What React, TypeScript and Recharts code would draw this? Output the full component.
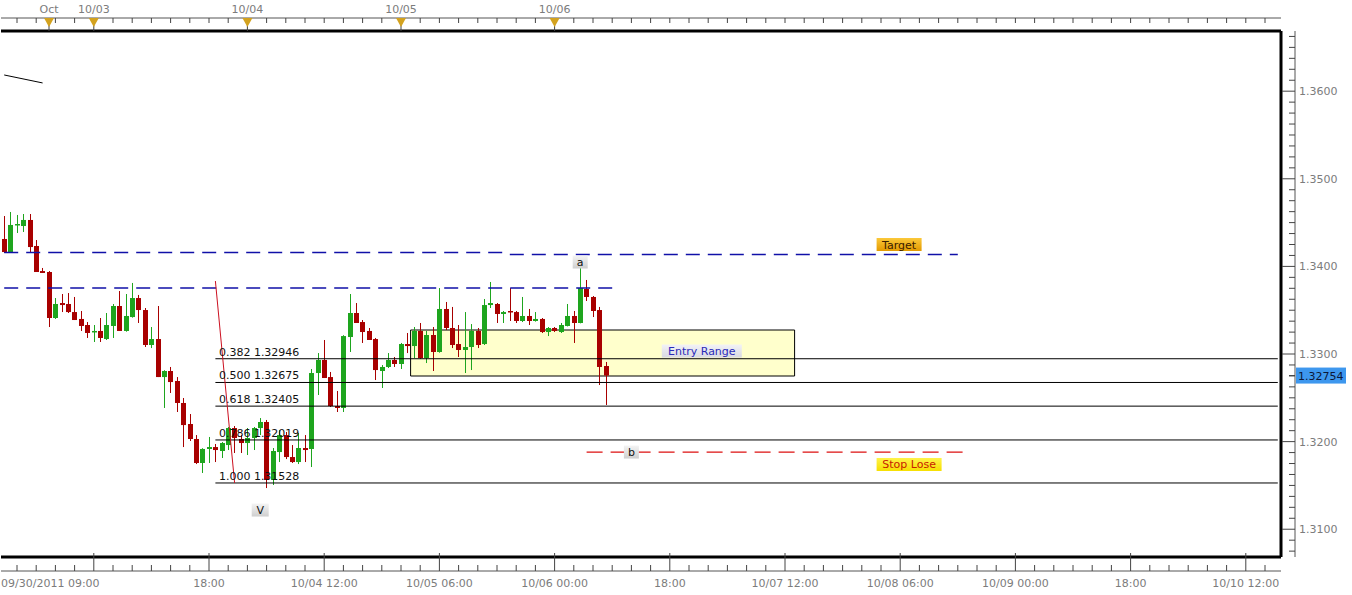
import React from "react";
import {
  Bar,
  ComposedChart,
  ReferenceArea,
  ReferenceDot,
  ReferenceLine,
  XAxis,
  YAxis,
} from "recharts";

const FONT = "'DejaVu Sans', Tahoma, sans-serif";
const GREEN = "#1ea51e";
const RED = "#a80000";
const AXIS_TEXT = "#7c7c7c";

// hourly EUR/USD candles, 09/30 -> 10/06
const opens = [
  1.34313, 1.34164, 1.34473, 1.34461, 1.3453, 1.34233, 1.33947, 1.33936, 1.33411, 1.33582,
  1.33571, 1.33479, 1.334, 1.33331, 1.33251, 1.33263, 1.33171, 1.3332, 1.33548, 1.33263,
  1.33422, 1.33639, 1.33502, 1.33103, 1.33171, 1.32737, 1.32806, 1.32692, 1.32441, 1.32201,
  1.3203, 1.31756, 1.31916, 1.31938, 1.31893, 1.31961, 1.32155, 1.3203, 1.31984, 1.32041,
  1.32155, 1.32224, 1.31562, 1.31881, 1.32075, 1.31824, 1.31767, 1.31927, 1.31916, 1.32783,
  1.32932, 1.32737, 1.32406, 1.32384, 1.33194, 1.33468, 1.33365, 1.33263, 1.33171, 1.32806,
  1.32852, 1.32932, 1.32886, 1.33114, 1.33091, 1.33263, 1.32954, 1.33217, 1.33023, 1.33514,
  1.33297, 1.33114, 1.33046, 1.3308, 1.33263, 1.33114, 1.33559, 1.33571, 1.33457, 1.33491,
  1.33479, 1.33377, 1.33434, 1.33377, 1.334, 1.33251, 1.33297, 1.33251, 1.3332, 1.33434,
  1.33354, 1.33742, 1.33651, 1.33502, 1.32863,
];
const highs = [
  1.34575, 1.34621, 1.34587, 1.34598, 1.34598, 1.34301, 1.33982, 1.33947, 1.33639, 1.33685,
  1.33696, 1.33651, 1.33491, 1.33365, 1.33331, 1.33411, 1.33468, 1.33571, 1.33719, 1.33685,
  1.33811, 1.33674, 1.33525, 1.33308, 1.33548, 1.32815, 1.32852, 1.32737, 1.32498, 1.32315,
  1.32075, 1.31925, 1.32053, 1.31973, 1.31995, 1.32167, 1.32178, 1.32075, 1.32155, 1.32167,
  1.32269, 1.32247, 1.31927, 1.32132, 1.3211, 1.31961, 1.32098, 1.32075, 1.32829, 1.33011,
  1.3316, 1.32795, 1.32578, 1.33215, 1.33685, 1.33582, 1.33388, 1.33297, 1.33183, 1.32874,
  1.33011, 1.32966, 1.33126, 1.3324, 1.33308, 1.33354, 1.33263, 1.33308, 1.33753, 1.33594,
  1.33537, 1.33331, 1.33479, 1.33342, 1.33297, 1.33628, 1.33822, 1.33582, 1.33491, 1.33753,
  1.33491, 1.33651, 1.33514, 1.33479, 1.33411, 1.33308, 1.33308, 1.33354, 1.33571, 1.33491,
  1.33993, 1.33845, 1.33662, 1.33537, 1.32909,
];
const lows = [
  1.34153, 1.34153, 1.34381, 1.34393, 1.34164, 1.33936, 1.33925, 1.33308, 1.334, 1.33479,
  1.33468, 1.33388, 1.33263, 1.33183, 1.33137, 1.33137, 1.3316, 1.33183, 1.33263, 1.33255,
  1.33415, 1.33354, 1.3308, 1.33068, 1.32737, 1.32384, 1.32555, 1.32338, 1.31938, 1.32007,
  1.31744, 1.31642, 1.31756, 1.31767, 1.31813, 1.31904, 1.3187, 1.3187, 1.31847, 1.31904,
  1.32075, 1.3147, 1.31505, 1.31767, 1.31801, 1.31756, 1.31744, 1.31767, 1.3171, 1.32532,
  1.32726, 1.32395, 1.32338, 1.32338, 1.33023, 1.33354, 1.33126, 1.3316, 1.32703, 1.32612,
  1.3284, 1.32852, 1.32829, 1.33011, 1.32954, 1.32945, 1.32897, 1.32806, 1.33015, 1.33274,
  1.33068, 1.32966, 1.32783, 1.32817, 1.33068, 1.33103, 1.33525, 1.33354, 1.33354, 1.33377,
  1.33354, 1.33365, 1.33331, 1.3337, 1.3324, 1.33205, 1.33251, 1.3324, 1.33315, 1.33126,
  1.3335, 1.33605, 1.33422, 1.32646, 1.32418,
];
const closes = [
  1.34164, 1.34473, 1.34484, 1.3453, 1.34221, 1.33936, 1.33925, 1.33411, 1.33571, 1.33559,
  1.33479, 1.33388, 1.3332, 1.3324, 1.33263, 1.33183, 1.33331, 1.33548, 1.33263, 1.33434,
  1.33639, 1.33502, 1.33103, 1.33171, 1.32737, 1.32806, 1.3268, 1.32441, 1.32189, 1.3203,
  1.31756, 1.31916, 1.31938, 1.31904, 1.31984, 1.32155, 1.32041, 1.31984, 1.32041, 1.32155,
  1.32224, 1.31562, 1.31893, 1.32075, 1.31824, 1.31767, 1.31927, 1.31904, 1.32783, 1.32932,
  1.32726, 1.32406, 1.32384, 1.33205, 1.33468, 1.33354, 1.33251, 1.3316, 1.32817, 1.32852,
  1.32932, 1.32886, 1.33114, 1.33091, 1.33263, 1.32954, 1.33217, 1.33023, 1.33514, 1.33297,
  1.33103, 1.33046, 1.3308, 1.33263, 1.33103, 1.33559, 1.33582, 1.33457, 1.33479, 1.33479,
  1.33377, 1.33434, 1.33377, 1.334, 1.33251, 1.33297, 1.33263, 1.33331, 1.33434, 1.33354,
  1.33753, 1.33651, 1.33491, 1.32852, 1.32754,
];

const SLOTS = 200; // hourly slots shown, future ones empty
const lastPrice = 1.32754;

const topMarks = [7, 14, 38, 62, 86];
const topLabels = ["Oct", "10/03", "10/04", "10/05", "10/06"];
const bottomMarks = [14, 32, 50, 68, 86, 104, 122, 140, 158, 176, 194];
const bottomLabels = [
  "09/30/2011 09:00", "18:00", "10/04 12:00", "10/05 06:00", "10/06 00:00", "18:00",
  "10/07 12:00", "10/08 06:00", "10/09 00:00", "18:00", "10/10 12:00",
];
const priceMajors = [1.31, 1.32, 1.33, 1.34, 1.35, 1.36];

const fibRatios = ["0.382", "0.500", "0.618", "0.786", "1.000"];
const fibLevels = [1.32946, 1.32675, 1.32405, 1.32019, 1.31528];

const targetLevels = [1.34159, 1.34136];
const resistLevel = 1.33753;
const stopLevel = 1.31881;
const entryRange = [1.32749, 1.33274];

const data = Array.from({ length: SLOTS }, (_, i) =>
  i < opens.length
    ? { i, range: [lows[i], highs[i]], o: opens[i], h: highs[i], l: lows[i], c: closes[i] }
    : { i }
);

const minorX = Array.from({ length: 66 }, (_, k) => 2 + k * 3);
const topTicks = [...new Set([...minorX, ...topMarks])].sort((a, b) => a - b);
const bottomTicks = minorX;
const priceTicks = [
  ...Array.from({ length: 48 }, (_, k) => Math.round((1.3075 + k * 0.00125) * 1e5) / 1e5),
  lastPrice,
];

function Candle(props: any) {
  const { x, y, width, height, payload } = props;
  if (payload == null || payload.o == null) return null;
  const { o, h, l, c } = payload;
  const top = Math.min(y, y + height);
  const span = Math.abs(height);
  const k = span / (h - l);
  const py = (p: number) => top + (h - p) * k;
  const cx = Math.round(x + width / 2) + 0.5;
  const color = c >= o ? GREEN : RED;
  const bodyTop = py(Math.max(o, c));
  const bodyH = Math.max(1.5, py(Math.min(o, c)) - bodyTop);
  return (
    <g>
      <line x1={cx} x2={cx} y1={top} y2={top + span} stroke={color} strokeWidth={1} />
      <rect x={cx - 2.5} y={bodyTop} width={5} height={bodyH} fill={color} />
    </g>
  );
}

function TopTick(props: any) {
  const { x, y, payload } = props;
  const m = topMarks.indexOf(payload.value);
  if (m >= 0) {
    return (
      <g>
        <line x1={x} x2={x} y1={y} y2={y + 13} stroke="#444" />
        <path d={`M${x - 5},${y} L${x + 5},${y} L${x},${y + 9} Z`} fill="#d3a21f" />
        <text x={x} y={y - 5} textAnchor="middle" fill={AXIS_TEXT} fontSize={11} fontFamily={FONT}>
          {topLabels[m]}
        </text>
      </g>
    );
  }
  return <line x1={x} x2={x} y1={y} y2={y + 5} stroke="#444" />;
}

function BottomTick(props: any) {
  const { x, y, payload } = props;
  const m = bottomMarks.indexOf(payload.value);
  if (m >= 0) {
    return (
      <g>
        <line x1={x} x2={x} y1={y - 18} y2={y} stroke="#444" />
        <text
          x={m === 0 ? 1 : x}
          y={y + 16}
          textAnchor={m === 0 ? "start" : "middle"}
          fill={AXIS_TEXT}
          fontSize={11}
          fontFamily={FONT}
        >
          {bottomLabels[m]}
        </text>
      </g>
    );
  }
  return <line x1={x} x2={x} y1={y - 6} y2={y} stroke="#444" />;
}

function PriceTick(props: any) {
  const { x, y, payload } = props;
  const v = payload.value;
  if (v === lastPrice) {
    return (
      <g>
        <line x1={x - 6} x2={x} y1={y} y2={y} stroke="#444" />
        <rect x={x + 1} y={y - 8} width={50} height={16} fill="#3d97ee" />
        <text x={x + 3} y={y + 4} fill="#0c1838" fontSize={11} fontFamily={FONT}>
          {v.toFixed(5)}
        </text>
      </g>
    );
  }
  const major = priceMajors.some((p) => Math.abs(p - v) < 1e-7);
  if (major) {
    return (
      <g>
        <line x1={x - 13} x2={x} y1={y} y2={y} stroke="#444" />
        <text x={x + 4} y={y + 4} fill={AXIS_TEXT} fontSize={11} fontFamily={FONT}>
          {v.toFixed(4)}
        </text>
      </g>
    );
  }
  return <line x1={x - 6} x2={x} y1={y} y2={y} stroke="#444" />;
}

const fibLabel = (text: string) => (p: any) => (
  <text x={p.cx + 3.5} y={p.cy - 3} fill="#111" fontSize={11} fontFamily={FONT}>
    {text}
  </text>
);

const boxLabel =
  (text: string, w: number, fill: string, color: string, anchor: "left" | "center") =>
  (p: any) => {
    const left = anchor === "left" ? p.cx + 2 : p.cx - w / 2;
    return (
      <g>
        <rect x={left} y={p.cy - 6.5} width={w} height={13} fill={fill} />
        <text
          x={left + w / 2}
          y={p.cy + 4}
          textAnchor="middle"
          fill={color}
          fontSize={11}
          fontFamily={FONT}
        >
          {text}
        </text>
      </g>
    );
  };

export default function App() {
  return (
    <div style={{ position: "absolute", left: 0, top: 0, background: "#fff" }}>
      <ComposedChart
        width={1352}
        height={595}
        data={data}
        margin={{ top: 0, right: 0, bottom: 0, left: 1 }}
        barCategoryGap={0}
      >
        <defs>
          <linearGradient id="gTarget" x1="0" y1="0" x2="0" y2="1">
            <stop offset="0%" stopColor="#fbc83a" />
            <stop offset="100%" stopColor="#e39a00" />
          </linearGradient>
          <linearGradient id="gStop" x1="0" y1="0" x2="0" y2="1">
            <stop offset="0%" stopColor="#fff34a" />
            <stop offset="100%" stopColor="#f6df00" />
          </linearGradient>
          <linearGradient id="gTag" x1="0" y1="0" x2="0" y2="1">
            <stop offset="0%" stopColor="#f4f4f4" />
            <stop offset="100%" stopColor="#cfcfcf" />
          </linearGradient>
          <linearGradient id="gEntry" x1="0" y1="0" x2="0" y2="1">
            <stop offset="0%" stopColor="#f2f2f6" />
            <stop offset="100%" stopColor="#d9d9e2" />
          </linearGradient>
        </defs>

        <XAxis
          xAxisId="t0"
          dataKey="i"
          orientation="top"
          height={13}
          tick={false}
          tickLine={false}
          axisLine={{ stroke: "#000", strokeWidth: 3 }}
        />
        <XAxis
          xAxisId="t1"
          dataKey="i"
          orientation="top"
          height={18}
          ticks={topTicks}
          interval={0}
          tickSize={0}
          tickMargin={0}
          tickLine={false}
          tick={<TopTick />}
          axisLine={{ stroke: "#555", strokeWidth: 1 }}
        />
        <XAxis
          xAxisId="b0"
          dataKey="i"
          orientation="bottom"
          height={14}
          tick={false}
          tickLine={false}
          axisLine={{ stroke: "#000", strokeWidth: 3 }}
        />
        <XAxis
          xAxisId="b1"
          dataKey="i"
          orientation="bottom"
          height={24}
          ticks={bottomTicks}
          interval={0}
          tickSize={0}
          tickMargin={0}
          tickLine={false}
          tick={<BottomTick />}
          axisLine={{ stroke: "#555", strokeWidth: 1 }}
        />
        <YAxis
          yAxisId="p"
          orientation="right"
          type="number"
          width={14}
          domain={[1.30683, 1.36687]}
          allowDataOverflow
          tick={false}
          tickLine={false}
          axisLine={{ stroke: "#000", strokeWidth: 3 }}
        />
        <YAxis
          yAxisId="r"
          orientation="right"
          type="number"
          width={57}
          domain={[1.30683, 1.36687]}
          allowDataOverflow
          ticks={priceTicks}
          interval={0}
          tickSize={0}
          tickMargin={0}
          tickLine={false}
          tick={<PriceTick />}
          axisLine={{ stroke: "#555", strokeWidth: 1 }}
        />

        <ReferenceArea
          xAxisId="b0"
          yAxisId="p"
          x1={64}
          x2={123}
          y1={entryRange[0]}
          y2={entryRange[1]}
          fill="#ffffcc"
          fillOpacity={1}
          stroke="#000"
          strokeWidth={1}
        />

        {fibLevels.map((lv, k) => (
          <ReferenceLine
            key={"fib" + k}
            xAxisId="b0"
            yAxisId="p"
            segment={[
              { x: 33, y: lv },
              { x: SLOTS - 1, y: lv },
            ]}
            stroke="#000"
            strokeWidth={1}
          />
        ))}

        <ReferenceLine
          xAxisId="b0"
          yAxisId="p"
          segment={[
            { x: 0, y: targetLevels[0] },
            { x: 79, y: targetLevels[0] },
          ]}
          stroke="#1010a8"
          strokeWidth={1.5}
          strokeDasharray="14 8"
        />
        <ReferenceLine
          xAxisId="b0"
          yAxisId="p"
          segment={[
            { x: 79, y: targetLevels[1] },
            { x: 149, y: targetLevels[1] },
          ]}
          stroke="#1010a8"
          strokeWidth={1.5}
          strokeDasharray="14 8"
        />
        <ReferenceLine
          xAxisId="b0"
          yAxisId="p"
          segment={[
            { x: 0, y: resistLevel },
            { x: 95, y: resistLevel },
          ]}
          stroke="#1010a8"
          strokeWidth={1.5}
          strokeDasharray="14 8"
        />
        <ReferenceLine
          xAxisId="b0"
          yAxisId="p"
          segment={[
            { x: 91, y: stopLevel },
            { x: 151, y: stopLevel },
          ]}
          stroke="#dd1010"
          strokeWidth={1.2}
          strokeDasharray="16 8"
        />
        <ReferenceLine
          xAxisId="b0"
          yAxisId="p"
          segment={[
            { x: 33, y: 1.33833 },
            { x: 36, y: 1.31528 },
          ]}
          stroke="#cc1020"
          strokeWidth={1}
        />
        <ReferenceLine
          xAxisId="b0"
          yAxisId="p"
          segment={[
            { x: 0, y: 1.36185 },
            { x: 6, y: 1.36094 },
          ]}
          stroke="#000"
          strokeWidth={1}
        />

        <Bar
          xAxisId="b0"
          yAxisId="p"
          dataKey="range"
          shape={(p: any) => <Candle {...p} />}
          isAnimationActive={false}
        />

        {fibLevels.map((lv, k) => (
          <ReferenceDot
            key={"fl" + k}
            xAxisId="b0"
            yAxisId="p"
            x={33}
            y={lv}
            shape={fibLabel(`${fibRatios[k]} ${lv.toFixed(5)}`)}
          />
        ))}
        <ReferenceDot
          xAxisId="b0"
          yAxisId="p"
          x={109}
          y={1.33034}
          shape={boxLabel("Entry Range", 80, "url(#gEntry)", "#2a2ab8", "center")}
        />
        <ReferenceDot
          xAxisId="b0"
          yAxisId="p"
          x={136}
          y={1.3425}
          shape={boxLabel("Target", 45, "url(#gTarget)", "#3a2000", "left")}
        />
        <ReferenceDot
          xAxisId="b0"
          yAxisId="p"
          x={136}
          y={1.31739}
          shape={boxLabel("Stop Lose", 65, "url(#gStop)", "#c82000", "left")}
        />
        <ReferenceDot
          xAxisId="b0"
          yAxisId="p"
          x={90}
          y={1.3405}
          shape={boxLabel("a", 15, "url(#gTag)", "#111", "center")}
        />
        <ReferenceDot
          xAxisId="b0"
          yAxisId="p"
          x={98}
          y={1.31881}
          shape={boxLabel("b", 15, "url(#gTag)", "#111", "center")}
        />
        <ReferenceDot
          xAxisId="b0"
          yAxisId="p"
          x={40}
          y={1.31219}
          shape={boxLabel("V", 17, "url(#gTag)", "#111", "center")}
        />
      </ComposedChart>
    </div>
  );
}
